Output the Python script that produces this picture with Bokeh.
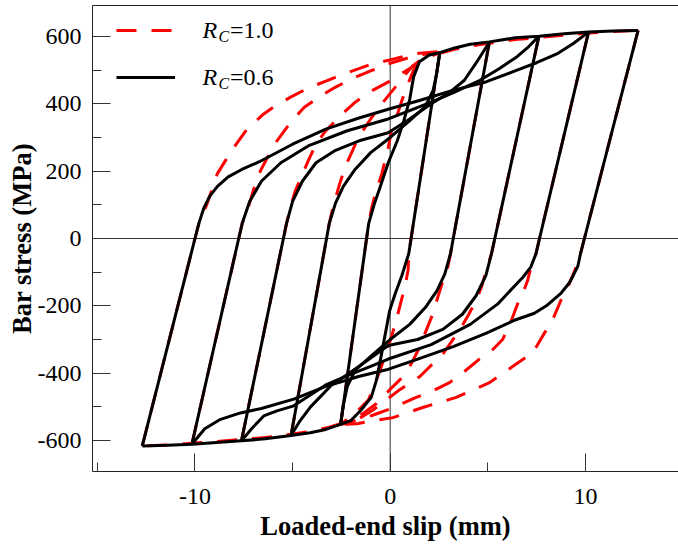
from bokeh.plotting import figure
from bokeh.models import (Range1d, SingleIntervalTicker, FixedTicker, Span, Legend, LegendItem,
                          Label, LinearAxis)
from bokeh.embed import file_html
from bokeh.resources import INLINE

# ---------------- data (slip in mm, stress in MPa) ----------------
x_ticks = [-10, 0, 10]
x_tick_labels = ["-10", "0", "10"]
y_ticks = [-600, -400, -200, 0, 200, 400, 600]
y_tick_labels = ["-600", "-400", "-200", "0", "200", "400", "600"]

# R_C = 0.6 (black, solid) ------------------------------------------
# reloading branches toward positive slip
bu1_x = [-2.54, -1.21, -1.1, -0.8, -0.5, -0.1, 0.37, 0.7, 0.99, 1.2, 1.5, 2.0, 2.54]
bu1_y = [-552, 0, 45, 105, 155, 225, 291, 350, 410, 480, 525, 545, 552]
bu2_x = [-5.08, -3.26, -3.12, -2.8, -2.4, -1.8, -1.0, 0.0, 1.0, 1.8, 2.2, 2.4, 2.54]
bu2_y = [-585, 0, 45, 105, 155, 205, 255, 300, 350, 392, 440, 495, 552]
bu3_x = [-7.62, -5.47, -5.31, -5.0, -4.5, -3.8, -2.8, -1.5, -0.1, 1.0, 2.1, 3.0, 3.8, 4.5, 5.08]
bu3_y = [-601, 0, 45, 110, 170, 225, 262, 292, 314, 355, 400, 432, 470, 530, 583]
bu4_x = [-10.16, -7.76, -7.58, -7.2, -6.6, -5.6, -4.2, -2.2, -0.1, 1.0, 2.1, 3.3, 4.6, 5.6, 6.5, 7.1, 7.62]
bu4_y = [-611, 0, 45, 110, 170, 225, 275, 320, 355, 380, 405, 435, 470, 505, 540, 570, 601]
bu5_x = [-12.7, -10.0, -9.8, -9.55, -9.25, -8.85, -8.3, -7.6, -6.7, -5.0, -3.3, -1.6, -0.1, 1.5, 3.2, 4.9, 6.5, 7.5, 8.6, 9.4, 10.16]
bu5_y = [-616, 0, 45, 90, 125, 155, 183, 205, 228, 280, 325, 358, 384, 410, 440, 465, 500, 522, 550, 580, 613]
# reloading branches toward negative slip
bd1_x = [2.54, 1.07, 0.95, 0.6, 0.25, -0.03, -0.4, -0.7, -0.97, -1.5, -2.0, -2.54]
bd1_y = [552, 0, -45, -110, -165, -215, -330, -420, -472, -510, -540, -552]
bd2_x = [5.08, 3.23, 3.09, 2.8, 2.4, 1.8, 1.0, 0.0, -1.0, -1.8, -2.2, -2.4, -2.54]
bd2_y = [583, 0, -45, -105, -155, -205, -255, -300, -350, -392, -440, -495, -552]
bd3_x = [7.62, 5.36, 5.19, 4.9, 4.4, 3.7, 2.7, 1.4, -0.1, -1.0, -2.1, -3.0, -4.08, -4.6, -5.08]
bd3_y = [601, 0, -45, -110, -170, -225, -270, -300, -318, -355, -400, -435, -500, -540, -585]
bd4_x = [10.16, 7.65, 7.47, 7.2, 6.8, 6.47, 5.5, 4.1, 2.1, -0.1, -1.0, -2.1, -3.3, -4.94, -5.8, -6.48, -7.1, -7.62]
bd4_y = [613, 0, -45, -85, -115, -135, -195, -255, -315, -358, -380, -405, -435, -497, -512, -527, -565, -601]
bd5_x = [12.7, 9.95, 9.75, 9.61, 9.2, 8.76, 8.0, 7.39, 6.4, 4.93, 3.23, 1.52, -0.19, -1.62, -3.33, -4.94, -6.6, -7.67, -8.69, -9.5, -10.16]
bd5_y = [618, 0, -45, -83, -130, -162, -200, -222, -242, -281, -321, -356, -390, -410, -440, -477, -505, -518, -537, -565, -611]
# envelopes
ep_x = [2.54, 3.3, 4.1, 5.08, 6.4, 7.62, 8.9, 10.16, 11.4, 12.7]
ep_y = [552, 566, 577, 584, 596, 601, 608, 613, 616, 618]
en_x = [-2.54, -3.3, -4.1, -5.08, -6.4, -7.62, -8.9, -10.16, -11.4, -12.7]
en_y = [-552, -567, -577, -585, -595, -601, -606, -611, -614, -616]

# R_C = 1.0 (red, dashed) -------------------------------------------
ru1_x = [-2.54, -1.21, -1.1, -0.94, -0.7, -0.43, -0.1, 0.07, 0.32, 0.6, 0.84, 1.2, 1.6, 2.0, 2.54]
ru1_y = [-552, 0, 45, 93, 145, 192, 270, 321, 360, 410, 449, 500, 530, 545, 552]
ru2_x = [-5.08, -3.26, -3.12, -2.9, -2.6, -2.31, -1.9, -1.62, -1.0, -0.43, 0.2, 0.67, 1.2, 1.8, 2.54]
ru2_y = [-585, 0, 45, 100, 160, 212, 265, 301, 355, 400, 445, 480, 515, 540, 552]
ru3_x = [-7.62, -5.47, -5.31, -5.1, -4.87, -4.5, -4.19, -3.8, -3.33, -2.6, -1.79, -0.9, -0.09, 1.0, 1.8, 2.54]
ru3_y = [-601, 0, 45, 95, 140, 190, 232, 280, 318, 362, 405, 440, 465, 505, 535, 552]
ru4_x = [-10.16, -7.76, -7.58, -7.33, -7.0, -6.64, -6.2, -5.79, -5.1, -4.4, -3.6, -2.82, -1.9, -0.94, -0.09, 1.0, 2.0, 2.54]
ru4_y = [-611, 0, 45, 80, 145, 202, 250, 291, 345, 390, 422, 449, 476, 499, 519, 538, 550, 552]
ru5_x = [-12.7, -10.0, -9.8, -9.6, -9.4, -9.1, -8.86, -8.4, -8.0, -7.33, -6.48, -5.8, -5.1, -4.2, -3.23, -2.55, -1.1, 0.3, 1.2, 1.8, 2.54]
ru5_y = [-616, 0, 45, 75, 100, 150, 192, 235, 271, 325, 370, 397, 420, 447, 469, 485, 515, 535, 548, 552, 555]
rd1_x = [2.54, 1.07, 0.95, 0.92, 0.8, 0.67, 0.5, 0.32, 0.1, -0.1, -0.45, -0.77, -1.11, -1.79, -2.54]
rd1_y = [552, 0, -45, -93, -130, -162, -200, -241, -285, -321, -380, -430, -479, -519, -552]
rd2_x = [5.08, 3.23, 3.09, 2.95, 2.72, 2.45, 2.2, 1.85, 1.52, 1.1, 0.67, -0.02, -0.7, -1.4, -2.0, -2.54]
rd2_y = [583, 0, -45, -85, -123, -172, -222, -272, -321, -370, -410, -449, -490, -520, -540, -552]
rd3_x = [7.62, 5.36, 5.19, 4.93, 4.7, 4.42, 4.0, 3.57, 2.72, 1.52, 0.49, -0.19, -0.9, -1.6, -2.54]
rd3_y = [601, 0, -45, -93, -140, -182, -228, -271, -341, -410, -449, -479, -510, -535, -552]
rd4_x = [10.16, 7.65, 7.47, 7.22, 7.05, 6.85, 6.58, 6.2, 5.77, 5.2, 4.57, 3.8, 3.04, 2.2, 1.33, -0.04, -0.9, -1.74, -2.54]
rd4_y = [613, 0, -45, -83, -123, -155, -186, -245, -299, -333, -358, -395, -428, -452, -472, -507, -525, -541, -552]
rd5_x = [12.7, 9.95, 9.75, 9.61, 9.35, 9.1, 8.76, 8.33, 7.9, 7.31, 6.4, 5.09, 3.38, 1.67, 0.14, -0.89, -1.7, -2.54]
rd5_y = [618, 0, -45, -73, -110, -143, -182, -240, -281, -339, -375, -428, -472, -502, -532, -541, -550, -552]
rep_x = [2.54, 3.3, 4.1, 5.08, 6.4, 7.62, 8.9, 10.16, 11.4, 12.7]
rep_y = [550, 562, 572, 580, 591, 597, 604, 610, 615, 618]
ren_x = [-2.54, -3.3, -4.1, -5.08, -6.4, -7.62, -8.9, -10.16, -11.4, -12.7]
ren_y = [-550, -563, -573, -581, -591, -597, -603, -608, -613, -616]

black_xs = [bu1_x, bu2_x, bu3_x, bu4_x, bu5_x, bd1_x, bd2_x, bd3_x, bd4_x, bd5_x, ep_x, en_x]
black_ys = [bu1_y, bu2_y, bu3_y, bu4_y, bu5_y, bd1_y, bd2_y, bd3_y, bd4_y, bd5_y, ep_y, en_y]
red_xs = [ru1_x, ru2_x, ru3_x, ru4_x, ru5_x, rd1_x, rd2_x, rd3_x, rd4_x, rd5_x, rep_x, ren_x]
red_ys = [ru1_y, ru2_y, ru3_y, ru4_y, ru5_y, rd1_y, rd2_y, rd3_y, rd4_y, rd5_y, rep_y, ren_y]

# ---------------- figure ----------------
SERIF = "Liberation Serif"
p = figure(width=678, height=544, output_backend="svg", toolbar_location=None,
           x_range=Range1d(-15.25, 14.77), y_range=Range1d(-692, 692),
           min_border_left=92, min_border_right=0, min_border_top=5, min_border_bottom=73)
p.outline_line_color = None
p.grid.visible = False
p.background_fill_color = "white"
p.border_fill_color = "white"

p.add_layout(Span(location=0, dimension="height", line_color="#333333", line_width=1, level="underlay"))
p.add_layout(Span(location=0, dimension="width", line_color="#333333", line_width=1, level="underlay"))

r_red = p.multi_line(xs=red_xs, ys=red_ys, line_color="#ff0000", line_width=3, line_dash="20 15")
r_black = p.multi_line(xs=black_xs, ys=black_ys, line_color="black", line_width=3, line_join="round")

# axes
p.xaxis.ticker = SingleIntervalTicker(interval=10, num_minor_ticks=2)
p.yaxis.ticker = SingleIntervalTicker(interval=200, num_minor_ticks=2)
p.xaxis.major_label_overrides = dict(zip(x_ticks, x_tick_labels))
p.yaxis.major_label_overrides = dict(zip(y_ticks, y_tick_labels))
for ax in (p.xaxis, p.yaxis):
    ax.axis_line_color = "#222222"
    ax.axis_line_width = 1
    ax.major_tick_line_color = "#333333"
    ax.minor_tick_line_color = "#333333"
    ax.major_tick_in = 18
    ax.major_tick_out = 0
    ax.minor_tick_in = 9
    ax.minor_tick_out = 0
    ax.major_label_text_font = SERIF
    ax.major_label_text_font_size = "24px"
    ax.major_label_text_color = "black"
    ax.axis_label_text_font = SERIF
    ax.axis_label_text_font_size = "26.5px"
    ax.axis_label_text_font_style = "bold"
    ax.axis_label_text_color = "black"
p.xaxis.axis_label = "Loaded-end slip (mm)"
p.yaxis.axis_label = "Bar stress (MPa)"
p.xaxis.major_label_standoff = 17
p.xaxis.axis_label_standoff = 4
p.yaxis.major_label_standoff = 11
p.yaxis.axis_label_standoff = -2

top_axis = LinearAxis(ticker=FixedTicker(ticks=[]), major_tick_line_color=None,
                      minor_tick_line_color=None, axis_line_color="#222222",
                      major_label_standoff=0, major_tick_out=0, major_tick_in=0)
p.add_layout(top_axis, "above")

legend = Legend(items=[LegendItem(label="=1.0", renderers=[r_red]),
                       LegendItem(label="=0.6", renderers=[r_black])],
                location=(24, 380), orientation="vertical",
                border_line_color=None, background_fill_alpha=0,
                padding=0, margin=0, spacing=19,
                glyph_width=59, glyph_height=28, label_height=20,
                label_standoff=55,
                label_text_font=SERIF, label_text_font_size="24px",
                label_text_color="black")
p.add_layout(legend, "center")

for yb, yc in ((442, 435), (395, 388)):
    p.add_layout(Label(x=110, y=yb, x_units="screen", y_units="screen", text="R",
                       text_font=SERIF, text_font_style="italic", text_font_size="24px",
                       text_color="black", text_baseline="alphabetic"))
    p.add_layout(Label(x=126, y=yc, x_units="screen", y_units="screen", text="C",
                       text_font=SERIF, text_font_style="italic", text_font_size="16px",
                       text_color="black", text_baseline="alphabetic"))

open("out.html", "w").write(file_html(p, INLINE))
